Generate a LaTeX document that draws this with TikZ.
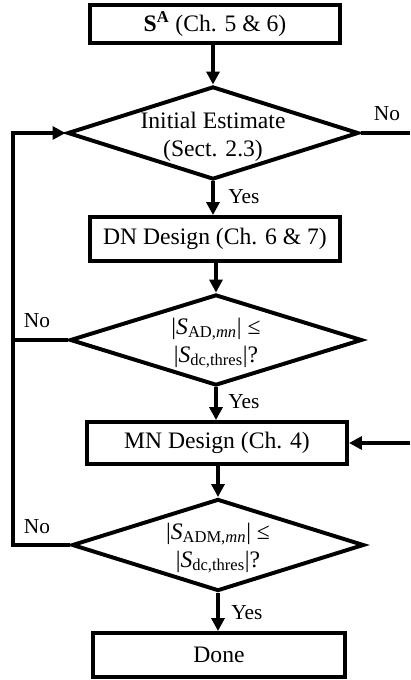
\documentclass[tikz,border=0pt]{standalone}
\usepackage{fontspec}
\setmainfont{Liberation Serif}
\usetikzlibrary{shapes.geometric,arrows.meta}

\begin{document}
\begin{tikzpicture}[
    x=0.025cm, y=-0.025cm,
    line width=2.8pt,
    box/.style     ={draw, rectangle, inner sep=0pt, font=\fontsize{16.8}{20}\selectfont},
    decision/.style={draw, diamond, inner sep=0pt},
    cond/.style    ={font=\fontsize{16.8}{20}\selectfont, align=center, inner sep=0pt},
    answer/.style  ={font=\fontsize{15.2}{18}\selectfont, inner sep=1pt},
    flow/.style    ={-{Triangle[length=0.32cm, width=0.32cm]}},
  ]
  \useasboundingbox (0,0) rectangle (410,680);

  % ---------------- steps and checks ---------------------------------------
  \node[box, minimum width=6.25cm, minimum height=0.95cm] (start) at (215,24)
        {\textbf{S\textsuperscript{A}} (Ch. 5 \& 6)};
  \node[decision, minimum width=7.275cm, minimum height=2.325cm] (estimate) at (213,133) {};
  \node[cond] (estimatetxt) at (213,137) {Initial Estimate\\(Sect. 2.3)};

  \node[box, minimum width=6.25cm, minimum height=1.1cm] (dndesign) at (215,239)
        {DN Design (Ch. 6 \& 7)};
  \node[decision, minimum width=7.3cm, minimum height=2.275cm] (adcheck) at (216,340) {};
  \node[cond] (adchecktxt) at (216,343)
        {\textbar\textit{S}\textsubscript{AD,\textit{mn}}\textbar{} ≤\\
         \textbar\textit{S}\textsubscript{dc,thres}\textbar?};

  \node[box, minimum width=6.5cm, minimum height=1.05cm] (mndesign) at (217,443)
        {MN Design (Ch. 4)};
  \node[decision, minimum width=7.3cm, minimum height=2.3cm] (admcheck) at (218,545) {};
  \node[cond] (admchecktxt) at (218,548)
        {\textbar\textit{S}\textsubscript{ADM,\textit{mn}}\textbar{} ≤\\
         \textbar\textit{S}\textsubscript{dc,thres}\textbar?};

  \node[box, minimum width=6.3cm, minimum height=1.1cm] (done) at (219,655) {Done};

  % ---------------- free ends of the loops ---------------------------------
  \coordinate (backtop) at (13,133);
  \coordinate (noexit)  at (410,133);
  \coordinate (mnentry) at (410,443);

  % ---------------- main flow ----------------------------------------------
  \draw[flow] (start.south -| estimate.north) -- (estimate.north);
  \draw[flow] (estimate.south) -- (estimate.south |- dndesign.north);
  \draw[flow] (dndesign.south -| adcheck.north) -- (adcheck.north);
  \draw[flow] (adcheck.south) -- (adcheck.south |- mndesign.north);
  \draw[flow] (mndesign.south -| admcheck.north) -- (admcheck.north);
  \draw[flow] (admcheck.south) -- (admcheck.south |- done.north);

  % ---------------- loops back ---------------------------------------------
  \draw[flow] (admcheck.west) -| (backtop) -- (estimate.west);
  \draw (adcheck.west) -- (adcheck.west -| backtop);
  \draw (estimate.east) -- (noexit);
  \draw[flow] (mnentry) -- (mndesign.east);

  % ---------------- answers ------------------------------------------------
  \node[answer, anchor=west] (yes1) at (225,197) {Yes};
  \node[answer, anchor=west] (yes2) at (225,402) {Yes};
  \node[answer, anchor=west] (yes3) at (228,613) {Yes};
  \node[answer] (no1) at (387,114) {No};
  \node[answer] (no2) at (37,321)  {No};
  \node[answer] (no3) at (37,527)  {No};

\end{tikzpicture}
\end{document}
